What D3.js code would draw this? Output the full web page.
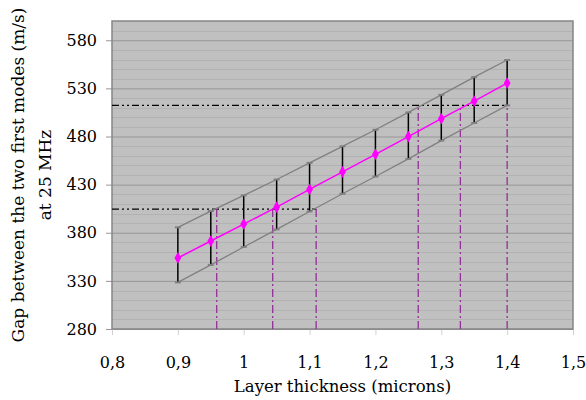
<!DOCTYPE html>
<html>
<head>
<meta charset="utf-8">
<script src="https://cdn.jsdelivr.net/npm/d3@7"></script>
<style>
  body { margin: 0; background: #fff; }
  svg text { font-family: "DejaVu Serif", "Liberation Serif", serif; fill: #000; }
</style>
</head>
<body>
<div id="chart"></div>
<script>
// thickness (microns)
const thickness = [0.9, 0.95, 1.0, 1.05, 1.1, 1.15, 1.2, 1.25, 1.3, 1.35, 1.4];
// gap between modes (m/s), center value and error bounds
const gapCenter = [353.8, 371.4, 389, 406.6, 425, 443.3, 461.5, 479.9, 498.5, 516.8, 535.5];
const gapUpper  = [385.6, 402.5, 418.8, 435.3, 452.6, 469.8, 487, 505, 523.3, 541.7, 559.5];
const gapLower  = [328.4, 346.6, 365.2, 383.5, 402.1, 420.5, 438.4, 456.7, 475.7, 494, 512.3];

// reading guides: horizontal levels and where they go up to
const guideLevels = [404.6, 512.3];
const guideLevelEnd = [1.11, 1.4];
const guideX = [0.959, 1.044, 1.11, 1.265, 1.329, 1.4];
const guideXLevel = [404.6, 404.6, 404.6, 512.3, 512.3, 512.3];

const xTicks = [0.8, 0.9, 1.0, 1.1, 1.2, 1.3, 1.4, 1.5];
const yTicks = [280, 330, 380, 430, 480, 530, 580];

const W = 586, H = 400;
const margin = {top: 21, right: 13, bottom: 71, left: 112};
const innerWidth = W - margin.left - margin.right,
      innerHeight = H - margin.top - margin.bottom;

const svg = d3.select('#chart').append('svg')
    .attr('width', W).attr('height', H);

const xScale = d3.scaleLinear().domain([0.8, 1.5]).range([0, innerWidth]);
const yScale = d3.scaleLinear().domain([280, 600]).range([innerHeight, 0]);

const g = svg.append('g')
    .attr('transform', `translate(${margin.left},${margin.top})`);

// plot background
g.append('rect')
    .attr('width', innerWidth).attr('height', innerHeight)
    .attr('fill', '#c0c0c0');

// minor gridlines every 10
g.append('g').selectAll('line')
    .data(d3.range(290, 600, 10).filter(v => (v - 280) % 50 !== 0))
    .join('line')
    .attr('x1', 0).attr('x2', innerWidth)
    .attr('y1', d => Math.round(yScale(d)) + 0.5)
    .attr('y2', d => Math.round(yScale(d)) + 0.5)
    .attr('stroke', '#b2b2b2').attr('stroke-width', 1);

// y axis with major gridlines
const yAxis = d3.axisLeft(yScale)
    .tickValues(yTicks)
    .tickSize(-innerWidth)
    .tickPadding(15)
    .tickFormat(d3.format('d'));
const yAxisG = g.append('g').call(yAxis);
yAxisG.select('.domain').remove();
yAxisG.selectAll('.tick line').attr('stroke', '#969696').attr('x1', -6);
yAxisG.selectAll('.tick text').attr('font-size', 16);

// x axis
const xAxis = d3.axisBottom(xScale)
    .tickValues(xTicks)
    .tickSize(6)
    .tickPadding(22)
    .tickFormat(d => d3.format('.1f')(d).replace('.', ',').replace(/^1,0$/, '1'));
const xAxisG = g.append('g')
    .attr('transform', `translate(0,${innerHeight})`)
    .call(xAxis);
xAxisG.select('.domain').remove();
xAxisG.selectAll('.tick line').attr('stroke', '#d0d0d0');
xAxisG.selectAll('.tick text').attr('font-size', 16);

// plot border
g.append('rect')
    .attr('width', innerWidth).attr('height', innerHeight)
    .attr('fill', 'none').attr('stroke', '#858585').attr('stroke-width', 1.5);

// horizontal reading guides
g.append('g').selectAll('line')
    .data(guideLevels)
    .join('line')
    .attr('x1', 0)
    .attr('x2', (d, i) => xScale(guideLevelEnd[i]))
    .attr('y1', d => yScale(d)).attr('y2', d => yScale(d))
    .attr('stroke', '#000').attr('stroke-width', 1.3)
    .attr('stroke-dasharray', '7,3,2,3,2,3');

// vertical reading guides
g.append('g').selectAll('line')
    .data(guideX)
    .join('line')
    .attr('x1', d => xScale(d)).attr('x2', d => xScale(d))
    .attr('y1', innerHeight)
    .attr('y2', (d, i) => yScale(guideXLevel[i]))
    .attr('stroke', '#932f96').attr('stroke-width', 1.3)
    .attr('stroke-dasharray', '8,3,2,3');

const pts = thickness.map((t, i) => ({x: t, c: gapCenter[i], hi: gapUpper[i], lo: gapLower[i]}));

// envelope lines
const envLine = key => d3.line().x(d => xScale(d.x)).y(d => yScale(d[key]));
g.append('path').datum(pts).attr('d', envLine('hi'))
    .attr('fill', 'none').attr('stroke', '#808080').attr('stroke-width', 1.3);
g.append('path').datum(pts).attr('d', envLine('lo'))
    .attr('fill', 'none').attr('stroke', '#808080').attr('stroke-width', 1.3);

// error bars
const bars = g.append('g').selectAll('g').data(pts).join('g');
bars.append('line')
    .attr('x1', d => xScale(d.x)).attr('x2', d => xScale(d.x))
    .attr('y1', d => yScale(d.lo)).attr('y2', d => yScale(d.hi))
    .attr('stroke', '#000').attr('stroke-width', 1.5);
['lo', 'hi'].forEach(k => {
    bars.append('line')
        .attr('x1', d => xScale(d.x) - 3).attr('x2', d => xScale(d.x) + 3)
        .attr('y1', d => yScale(d[k])).attr('y2', d => yScale(d[k]))
        .attr('stroke', '#808080').attr('stroke-width', 2);
});

// center line with markers
g.append('path').datum(pts)
    .attr('d', d3.line().x(d => xScale(d.x)).y(d => yScale(d.c)))
    .attr('fill', 'none').attr('stroke', '#ff00ff').attr('stroke-width', 1.5);
g.append('g').selectAll('path').data(pts).join('path')
    .attr('d', d3.symbol().type(d3.symbolDiamond).size(40))
    .attr('transform', d => `translate(${xScale(d.x)},${yScale(d.c)})`)
    .attr('fill', '#ff00ff');

// axis titles
svg.append('text')
    .attr('x', margin.left + innerWidth / 2).attr('y', 392)
    .attr('text-anchor', 'middle').attr('font-size', 16.5)
    .text('Layer thickness (microns)');

const yl = svg.append('text')
    .attr('transform', `translate(24,${margin.top + innerHeight / 2}) rotate(-90)`)
    .attr('text-anchor', 'middle').attr('font-size', 17);
yl.append('tspan').attr('x', 0).attr('dy', 0).text('Gap between the two first modes (m/s)');
yl.append('tspan').attr('x', 0).attr('dy', 27).text('at 25 MHz');
</script>
</body>
</html>
